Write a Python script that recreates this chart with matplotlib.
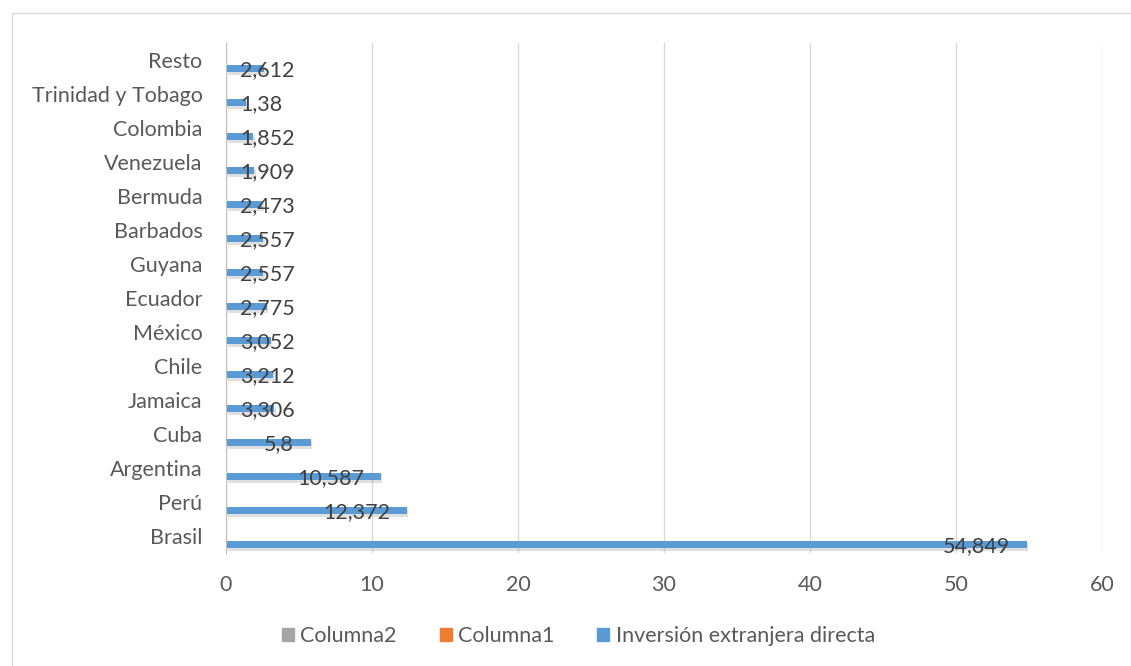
import numpy as np
import matplotlib
matplotlib.use('Agg')
import matplotlib.pyplot as plt
import matplotlib.patches as mpatches
import matplotlib.patheffects as pe

plt.rcParams['font.family'] = ['Lato', 'DejaVu Sans']

COUNTRIES = ['Brasil', 'Perú', 'Argentina', 'Cuba', 'Jamaica', 'Chile', 'México',
             'Ecuador', 'Guyana', 'Barbados', 'Bermuda', 'Venezuela', 'Colombia',
             'Trinidad y Tobago', 'Resto']
IED = [54.849, 12.372, 10.587, 5.8, 3.306, 3.212, 3.052, 2.775, 2.557, 2.557,
       2.473, 1.909, 1.852, 1.38, 2.612]
COLUMNA1 = [0] * len(COUNTRIES)
COLUMNA2 = [0] * len(COUNTRIES)
X_TICKS = [0, 10, 20, 30, 40, 50, 60]

BLUE = '#5B9BD5'
ORANGE = '#ED7D31'
GRAY = '#A5A5A5'
TEXT = '#595959'
FS = 15.5


def fmt(v):
    s = f'{v:.3f}'.rstrip('0').rstrip('.')
    return s.replace('.', ',')


def main():
    fig = plt.figure(figsize=(11.31, 6.66), dpi=100)
    W, H = 1131, 666
    ax = fig.add_axes([226 / W, 1 - 553 / H, (1102 - 226) / W, (553 - 43) / H])

    # chart border
    fig.patches.append(mpatches.Rectangle((12 / W, -0.1), 1.2, 1 - 13 / H + 0.1,
                                          transform=fig.transFigure, fill=False,
                                          edgecolor='#d9d9d9', linewidth=1))

    y = np.arange(len(COUNTRIES))
    h = 0.22
    shadow = [pe.SimplePatchShadow(offset=(1.2, -1.8), shadow_rgbFace='#9a9a9a', alpha=0.3),
              pe.Normal()]
    ax.barh(y - 0.25, IED, height=h, color=BLUE, path_effects=shadow, zorder=3)
    ax.barh(y, COLUMNA1, height=h, color=ORANGE, zorder=3)
    ax.barh(y + 0.25, COLUMNA2, height=h, color=GRAY, zorder=3)

    ax.set_xlim(0, 60)
    ax.set_ylim(-0.5, len(COUNTRIES) - 0.5)
    ax.set_xticks(X_TICKS)
    ax.set_xticklabels([str(t) for t in X_TICKS])
    ax.set_yticks(y)
    ax.set_yticklabels(COUNTRIES)
    ax.tick_params(axis='both', length=0, labelsize=FS, colors=TEXT)
    ax.tick_params(axis='y', pad=17)
    ax.tick_params(axis='x', pad=16)
    ax.grid(axis='x', color='#d9d9d9', linewidth=1, zorder=0)
    for s in ['top', 'right', 'bottom']:
        ax.spines[s].set_visible(False)
    ax.spines['left'].set_color('#bfbfbf')
    ax.spines['left'].set_zorder(4)

    # data labels: inside end, pushed right when they do not fit
    fig.canvas.draw()
    renderer = fig.canvas.get_renderer()
    ax_x0 = ax.get_window_extent().x0
    for yi, v in zip(y, IED):
        t = ax.annotate(fmt(v), (v, yi - 0.3), xytext=(-12, 0), textcoords='offset points',
                        ha='right', va='center', fontsize=FS, color='#404040', zorder=5)
        bb = t.get_window_extent(renderer)
        if bb.x0 < ax_x0 + 14:
            t.remove()
            ax.annotate(fmt(v), (0, yi - 0.3), xytext=(10, 0), textcoords='offset points',
                        ha='left', va='center', fontsize=FS, color='#404040', zorder=5)

    handles = [mpatches.Patch(color=GRAY, label='Columna2'),
               mpatches.Patch(color=ORANGE, label='Columna1'),
               mpatches.Patch(color=BLUE, label='Inversión extranjera directa')]
    leg = fig.legend(handles=handles, loc='center',
                     bbox_to_anchor=(0.5 + 13 / W, 1 - 636 / H),
                     ncol=3, frameon=False, fontsize=FS, handlelength=0.55,
                     handleheight=0.55, handletextpad=0.3, columnspacing=2.0)
    for txt in leg.get_texts():
        txt.set_color(TEXT)

    fig.savefig('out.png', dpi=100)


if __name__ == '__main__':
    main()
